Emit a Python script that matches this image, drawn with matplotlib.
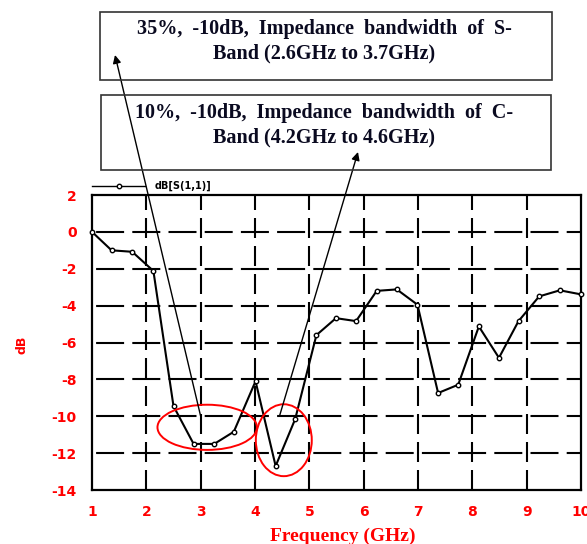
import matplotlib
matplotlib.use("Agg")
import matplotlib.pyplot as plt
from matplotlib.patches import Ellipse, Rectangle
from matplotlib.lines import Line2D

# ---- data ----
freq_ghz = [1.0, 1.36, 1.74, 2.13, 2.50, 2.87, 3.25, 3.61, 4.01, 4.38, 4.74, 5.13,
            5.49, 5.86, 6.24, 6.61, 6.99, 7.37, 7.74, 8.12, 8.49, 8.85, 9.23, 9.61, 10.0]
s11_db = [0.0, -1.0, -1.08, -2.12, -9.45, -11.5, -11.5, -10.84, -8.1, -12.7, -10.15, -5.6,
          -4.68, -4.84, -3.2, -3.12, -3.95, -8.74, -8.29, -5.13, -6.83, -4.84, -3.5, -3.17, -3.39]
x_ticks = [1, 2, 3, 4, 5, 6, 7, 8, 9, 10]
y_ticks = [2, 0, -2, -4, -6, -8, -10, -12, -14]
series_label = "dB[S(1,1)]"
box1_text = ["35%,  -10dB,  Impedance  bandwidth  of  S-", "Band (2.6GHz to 3.7GHz)"]
box2_text = ["10%,  -10dB,  Impedance  bandwidth  of  C-", "Band (4.2GHz to 4.6GHz)"]
# ellipses: (center x, center y, width, height) in data units
ellipse_s = (3.12, -10.6, 1.83, 2.45)
ellipse_c = (4.53, -11.3, 1.03, 3.9)
arrow_tails = [(3.0, -10.0), (4.45, -10.0)]

plt.rcParams['lines.scale_dashes'] = False
plt.rcParams['axes.unicode_minus'] = False

W, H = 587, 544
fig = plt.figure(figsize=(W / 100, H / 100), dpi=100)
L, R, T, B = 92, 581, 195, 490
ax = fig.add_axes([L / W, 1 - B / H, (R - L) / W, (B - T) / H])

ax.plot(freq_ghz, s11_db, color='black', lw=1.5, marker='o', ms=3.2,
        mfc='white', mec='black', mew=1.0, zorder=4, clip_on=False)

ax.set_xlim(1, 10)
ax.set_ylim(-14, 2)
ax.set_xticks(x_ticks)
ax.set_yticks(y_ticks)
ax.tick_params(length=0, labelcolor='red', pad=11)
for lab in ax.get_xticklabels() + ax.get_yticklabels():
    lab.set_fontweight('bold')
    lab.set_fontsize(10)
for s in ax.spines.values():
    s.set_linewidth(1.6)
    s.set_color('black')

# dashed grid (pattern, in pixels)
px = 72 / 100
h_style = (32.1 * px, (28 * px, 8.2 * px))
v_style = (0, (20 * px, 8 * px))
for yv in y_ticks[1:-1]:
    ax.axhline(yv, color='black', lw=1.5, linestyle=h_style, zorder=1)
for xv in x_ticks[1:-1]:
    ax.axvline(xv, color='black', lw=1.5, linestyle=v_style, zorder=1)

ax.set_xlabel("Frequency (GHz)", color='red', fontsize=14, fontweight='bold',
              family='Liberation Serif')
ax.xaxis.set_label_coords((343 - L) / (R - L), -(536 - B) / (B - T))
ax.xaxis.label.set_va('center')
ax.set_ylabel("dB", color='red', fontsize=9, fontweight='bold')
ax.yaxis.set_label_coords(-(L - 22) / (R - L), (B - 345) / (B - T))
ax.yaxis.label.set_va('center')

# red ellipses
for (cx, cy, w, h) in (ellipse_s, ellipse_c):
    ax.add_patch(Ellipse((cx, cy), w, h, fill=False, ec='red', lw=1.4, zorder=5))

# legend line at top-left
fig.add_artist(Line2D([92 / W, 145 / W], [1 - 186 / H] * 2, color='black', lw=1.0))
fig.add_artist(Line2D([119 / W], [1 - 186 / H], color='black', marker='o', ms=3.2,
                      mfc='white', mec='black', mew=1.0))
fig.text(155 / W, 1 - 186 / H, series_label, fontsize=7, fontweight='bold',
         va='center', ha='left')

# annotation boxes
def add_box(x0, y0, x1, y1, lines, ly):
    fig.add_artist(Rectangle((x0 / W, 1 - y1 / H), (x1 - x0) / W, (y1 - y0) / H,
                             fill=False, ec='#333333', lw=1.2, transform=fig.transFigure))
    for t, yy in zip(lines, ly):
        fig.text(324 / W, 1 - yy / H, t, ha='center', va='center',
                 family='Liberation Serif', fontweight='bold', fontsize=14.5,
                 color='#0a0a20')

add_box(100, 12, 552, 80, box1_text, [29, 53])
add_box(101, 95, 551, 170, box2_text, [113, 137])

# arrows from the -10 dB points to the boxes
heads = [(115, H - 55), (358, H - 152)]
for tail, head in zip(arrow_tails, heads):
    ax.annotate("", xy=head, xycoords='figure pixels', xytext=tail, textcoords='data',
                arrowprops=dict(arrowstyle='-|>', color='black', lw=1.0,
                                mutation_scale=12, shrinkA=0, shrinkB=0),
                annotation_clip=False, zorder=6)

fig.savefig("out.png", dpi=100)
